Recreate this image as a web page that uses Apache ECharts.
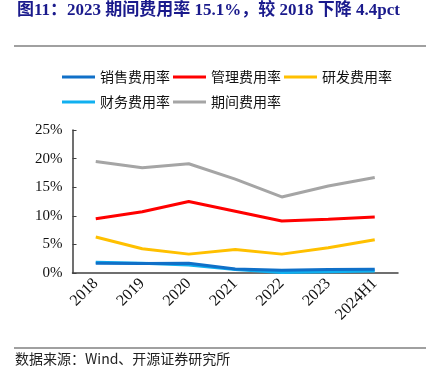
<!DOCTYPE html>
<html><head><meta charset="utf-8">
<script src="https://cdn.jsdelivr.net/npm/echarts@6/dist/echarts.min.js"></script>
<style>html,body{margin:0;padding:0;background:#fff}#c{width:435px;height:388px}</style>
</head><body><div id="c"></div>
<script>
const categories = ['2018','2019','2020','2021','2022','2023','2024H1'];
const salesRate = [1.7, 1.65, 1.7, 0.7, 0.5, 0.6, 0.65];
const mgmtRate = [9.5, 10.7, 12.5, 10.8, 9.1, 9.4, 9.8];
const rdRate = [6.3, 4.25, 3.3, 4.1, 3.3, 4.4, 5.8];
const finRate = [1.9, 1.7, 1.4, 0.6, 0.1, 0.2, 0.35];
const periodRate = [19.5, 18.4, 19.1, 16.4, 13.3, 15.2, 16.7];
const yTicks = ['0%','5%','10%','15%','20%','25%'];
const titleText = '图11：2023 期间费用率 15.1%，较 2018 下降 4.4pct';
const sourceText = '数据来源：Wind、开源证券研究所';

const chart = echarts.init(document.getElementById('c'));
const serif = '"Liberation Serif","DejaVu Serif","Noto Sans CJK SC",serif';
const cjk = '"Noto Sans CJK SC",serif';
function mk(name, data, color, z) {
  return {name, type:'line', data, symbol:'none', z,
    lineStyle:{color, width:3}, itemStyle:{color}};
}
chart.setOption({
  animation:false,
  graphic:[
    {type:'text', left:17, top:2, style:{text:titleText, font:'bold 17px '+serif, fill:'#1A1A8C'}},
    {type:'line', shape:{x1:14,y1:46,x2:426,y2:46}, style:{stroke:'#808080', lineWidth:1.5}},
    {type:'line', shape:{x1:14,y1:348,x2:426,y2:348}, style:{stroke:'#808080', lineWidth:1.5}},
    {type:'text', left:15, top:352, style:{text:sourceText, font:'14px '+cjk, fill:'#222'}}
  ],
  legend:{
    left:57, top:61, width:340, itemGap:3, itemWidth:33, itemHeight:3, icon:'rect',
    textStyle:{fontSize:14, fontFamily:cjk, color:'#111', lineHeight:22},
    data:['销售费用率','管理费用率','研发费用率','财务费用率','期间费用率']
  },
  grid:{left:72.5, right:37, top:130, bottom:115},
  xAxis:{type:'category', data:categories, boundaryGap:true,
    axisLine:{lineStyle:{color:'#404040', width:1.5}},
    axisTick:{inside:true, length:5, lineStyle:{color:'#404040'}},
    axisLabel:{rotate:45, fontFamily:serif, fontSize:16, color:'#111', margin:8}},
  yAxis:{type:'value', min:0, max:25, interval:5,
    axisLine:{show:true, lineStyle:{color:'#404040', width:1.5}},
    axisTick:{show:true, inside:true, length:4, lineStyle:{color:'#404040'}},
    splitLine:{show:false},
    axisLabel:{fontFamily:serif, fontSize:15, color:'#111', margin:10,
      formatter:(v)=>yTicks[Math.round(v/5)]}},
  series:[
    mk('销售费用率', salesRate, '#1070C8', 5),
    mk('管理费用率', mgmtRate, '#FF0000', 3),
    mk('研发费用率', rdRate, '#FFC000', 3),
    mk('财务费用率', finRate, '#10B0F0', 4),
    mk('期间费用率', periodRate, '#A5A5A5', 3)
  ]
});
</script></body></html>
